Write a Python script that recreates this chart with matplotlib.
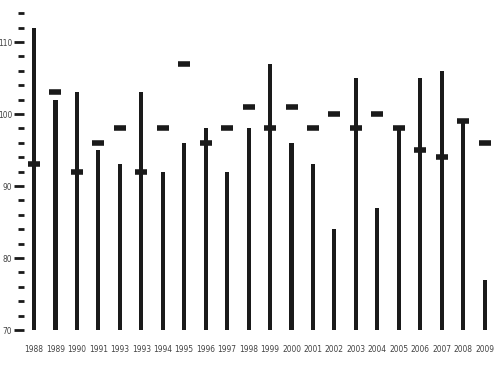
import matplotlib
matplotlib.use("Agg")
import matplotlib.pyplot as plt
import numpy as np

# ── Data ─────────────────────────────────────────────────────────────────────
years = ["1988", "1989", "1990", "1991", "1993", "1993", "1994", "1995", "1996",
         "1997", "1998", "1999", "2000", "2001", "2002", "2003", "2004", "2005",
         "2006", "2007", "2008", "2009"]
bar_values = [112, 102, 103, 95, 93, 103, 92, 96, 98, 92, 98, 107, 96, 93, 84,
              105, 87, 98, 105, 106, 99, 77]
marker_values = [93, 103, 92, 96, 98, 92, 98, 107, 96, 98, 101, 98, 101, 98, 100,
                 98, 100, 98, 95, 94, 99, 96]
base = 70

fig = plt.figure(figsize=(5, 3.7), dpi=100)
# axes starts at ~24 px, first bar sits at ~34 px, spacing ~21.4 px
ax = fig.add_axes([0.048, 0.108, 0.944, 0.8757])

x = np.arange(len(years))
ink = "#1a1a1a"
ax.bar(x, np.array(bar_values) - base, bottom=base, width=0.19, color=ink)
ax.hlines(marker_values, x - 0.28, x + 0.28, colors=ink, lw=4)

ax.set_xlim(-10 / 21.4, len(years) - 1 + 0.53)
ax.set_ylim(70, 115)

for s in ax.spines.values():
    s.set_visible(False)

font = {"family": "DejaVu Sans", "stretch": "condensed", "size": 6}
ax.set_xticks(x)
ax.set_xticklabels(years, **font, color="#444444")
ax.tick_params(axis="x", length=0, pad=11)

ax.set_yticks(np.arange(70, 111, 10))
ax.set_yticklabels([str(v) for v in range(70, 111, 10)], **font, color="#444444")
ax.set_yticks(np.arange(72, 115, 2), minor=True)
ax.tick_params(axis="y", which="major", length=7, width=2, pad=1.5, color=ink)
ax.tick_params(axis="y", which="minor", length=4, width=2, color=ink)

fig.savefig("out.png", dpi=100)
